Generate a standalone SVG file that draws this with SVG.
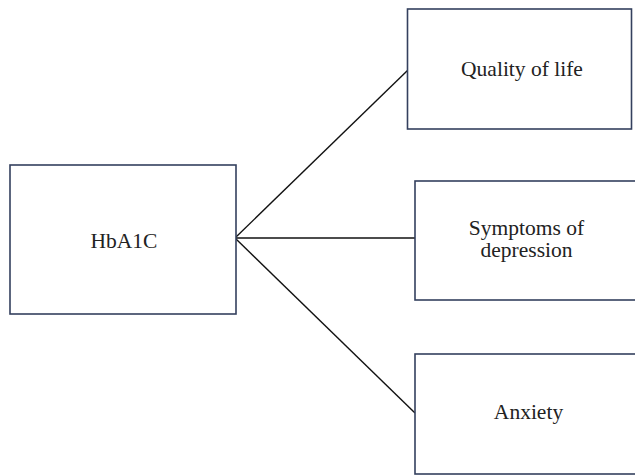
<svg xmlns="http://www.w3.org/2000/svg" width="635" height="475" viewBox="0 0 635 475">
  <style>
    .box { fill: #ffffff; stroke: #34405e; stroke-width: 1.6; }
    .lbl { font-family: "Liberation Serif", "DejaVu Serif", serif; font-size: 21.5px; fill: #222222; text-anchor: middle; }
    .link { stroke: #111111; stroke-width: 1.4; fill: none; }
  </style>
  <rect width="635" height="475" fill="#ffffff"/>
  <g id="connectors">
    <line class="link" x1="235" y1="238" x2="408" y2="70"/>
    <line class="link" x1="235" y1="238" x2="415" y2="238"/>
    <line class="link" x1="235" y1="238" x2="415" y2="413"/>
  </g>
  <g id="hba1c">
    <rect class="box" x="10" y="165" width="226" height="149"/>
    <text class="lbl" x="124" y="247.5">HbA1C</text>
  </g>
  <g id="quality-of-life">
    <rect class="box" x="407.5" y="9" width="224" height="120"/>
    <text class="lbl" x="522" y="76">Quality of life</text>
  </g>
  <g id="symptoms-of-depression">
    <rect class="box" x="415" y="181" width="225" height="119"/>
    <text class="lbl" x="526.5" y="235">Symptoms of</text>
    <text class="lbl" x="526.5" y="257">depression</text>
  </g>
  <g id="anxiety">
    <rect class="box" x="415" y="354" width="225" height="120"/>
    <text class="lbl" x="528.5" y="419">Anxiety</text>
  </g>
</svg>
